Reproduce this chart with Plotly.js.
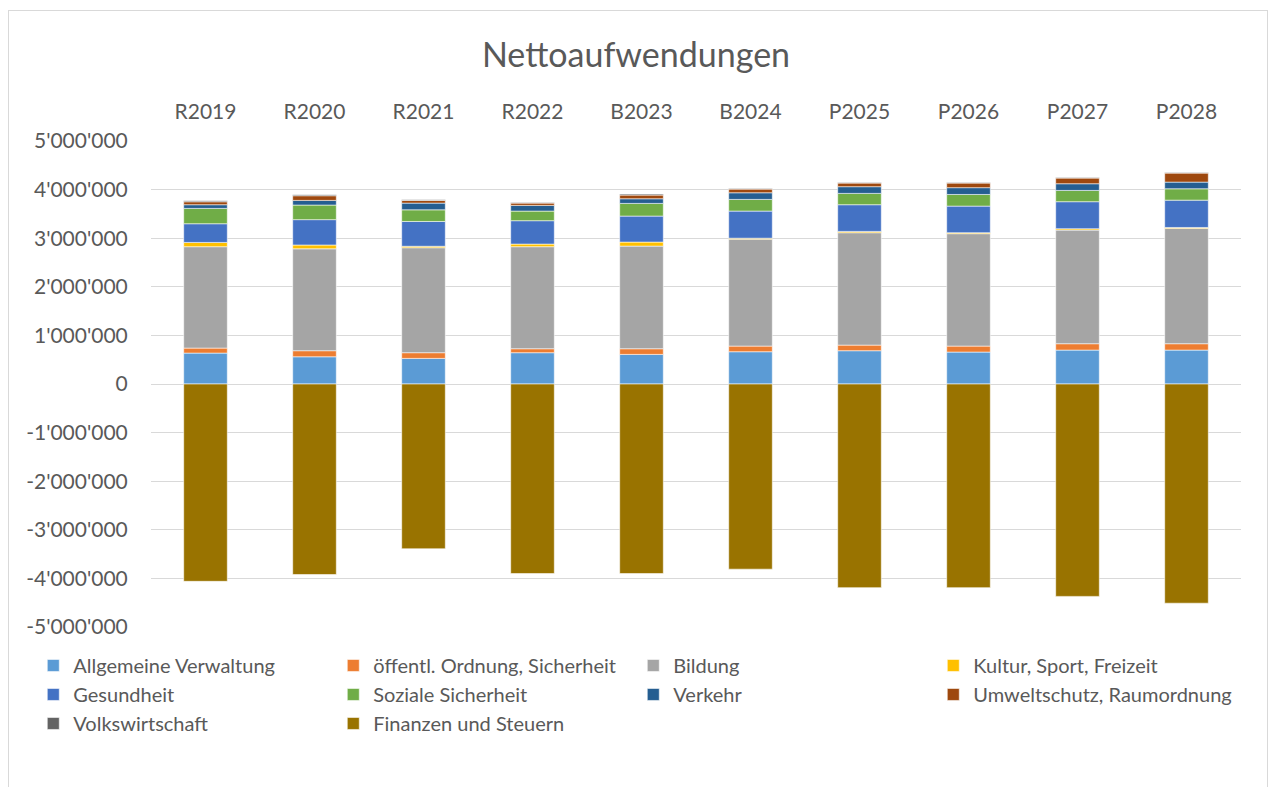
<!DOCTYPE html>
<html>
<head>
<meta charset="utf-8">
<script src="https://cdn.plot.ly/plotly-3.0.1.min.js"></script>
<style>
  body { margin: 0; background: #fff; }
  #chart { width: 1272px; height: 787px; }
  #frame { position: absolute; left: 8px; top: 10px; width: 1258px; height: 800px;
           border: 1px solid #d9d9d9; pointer-events: none; }
</style>
</head>
<body>
<div id="chart"></div>
<div id="frame"></div>
<script>
const years = ['R2019', 'R2020', 'R2021', 'R2022', 'B2023', 'B2024', 'P2025', 'P2026', 'P2027', 'P2028'];

const allgemeineVerwaltung = [636000, 560000, 527000, 644000, 609000, 664000, 685000, 657000, 698000, 698000];
const oeffentlOrdnung = [103000, 125000, 117000, 82000, 117000, 116000, 115000, 123000, 131000, 131000];
const bildung = [2086000, 2097000, 2160000, 2099000, 2111000, 2200000, 2313000, 2313000, 2338000, 2372000];
const kultur = [88000, 78000, 30000, 54000, 83000, 20000, 27000, 20000, 28000, 20000];
const gesundheit = [385000, 522000, 510000, 481000, 535000, 558000, 549000, 547000, 556000, 562000];
const sozialeSicherheit = [315000, 300000, 240000, 198000, 261000, 240000, 233000, 240000, 232000, 234000];
const verkehr = [76000, 96000, 138000, 117000, 96000, 137000, 138000, 140000, 138000, 137000];
const umweltschutz = [61000, 96000, 55000, 47000, 75000, 75000, 74000, 94000, 116000, 185000];
const volkswirtschaft = [20000, 21000, 12000, 14000, 20000, 15000, 14000, 14000, 14000, 14000];
const finanzen = [-4060000, -3920000, -3390000, -3900000, -3900000, -3810000, -4190000, -4190000, -4370000, -4510000];

const yTickVals = [5000000, 4000000, 3000000, 2000000, 1000000, 0, -1000000, -2000000, -3000000, -4000000, -5000000];
const yTickText = ["5'000'000", "4'000'000", "3'000'000", "2'000'000", "1'000'000", '0',
  "-1'000'000", "-2'000'000", "-3'000'000", "-4'000'000", "-5'000'000"];

const seriesList = [
  { name: 'Allgemeine Verwaltung', y: allgemeineVerwaltung, color: '#5b9bd5' },
  { name: 'öffentl. Ordnung, Sicherheit', y: oeffentlOrdnung, color: '#ed7d31' },
  { name: 'Bildung', y: bildung, color: '#a5a5a5' },
  { name: 'Kultur, Sport, Freizeit', y: kultur, color: '#ffc000' },
  { name: 'Gesundheit', y: gesundheit, color: '#4472c4' },
  { name: 'Soziale Sicherheit', y: sozialeSicherheit, color: '#70ad47' },
  { name: 'Verkehr', y: verkehr, color: '#255e91' },
  { name: 'Umweltschutz, Raumordnung', y: umweltschutz, color: '#9e480e' },
  { name: 'Volkswirtschaft', y: volkswirtschaft, color: '#636363' },
  { name: 'Finanzen und Steuern', y: finanzen, color: '#997300' },
];

const traces = seriesList.map((s) => ({
  type: 'bar',
  name: s.name,
  x: years,
  y: s.y,
  marker: { color: s.color, line: { color: 'rgba(255,255,255,0.7)', width: 0.8 } },
}));

const textColor = '#595959';
const font = 'Lato, "Liberation Sans", sans-serif';

const layout = {
  width: 1272,
  height: 787,
  paper_bgcolor: '#ffffff',
  plot_bgcolor: '#ffffff',
  margin: { l: 151, r: 31, t: 141, b: 160 },
  font: { family: font, color: textColor, size: 21 },
  title: {
    text: 'Nettoaufwendungen',
    font: { family: font, size: 34, color: textColor },
    x: 0.5,
    xanchor: 'center',
    y: 0.93,
    yanchor: 'middle',
  },
  barmode: 'relative',
  bargap: 0.6,
  xaxis: {
    side: 'top',
    type: 'category',
    showgrid: false,
    zeroline: false,
    showline: false,
    ticks: 'outside',
    ticklen: 13,
    tickcolor: 'rgba(0,0,0,0)',
    tickfont: { family: font, size: 21, color: textColor },
  },
  yaxis: {
    range: [-5000000, 5000000],
    tickvals: yTickVals,
    ticktext: yTickText,
    showgrid: true,
    gridcolor: '#d9d9d9',
    gridwidth: 1.3,
    zeroline: false,
    showline: false,
    ticks: 'outside',
    ticklen: 18,
    tickcolor: 'rgba(0,0,0,0)',
    tickfont: { family: font, size: 21, color: textColor },
  },
  showlegend: true,
  legend: {
    orientation: 'h',
    traceorder: 'normal',
    x: -0.108,
    xanchor: 'left',
    y: -0.039,
    yanchor: 'top',
    entrywidth: 255,
    entrywidthmode: 'pixels',
    itemwidth: 30,
    tracegroupgap: 0,
    font: { family: font, size: 20, color: textColor },
  },
};

Plotly.newPlot('chart', traces, layout, { displayModeBar: false, responsive: false });
</script>
</body>
</html>
